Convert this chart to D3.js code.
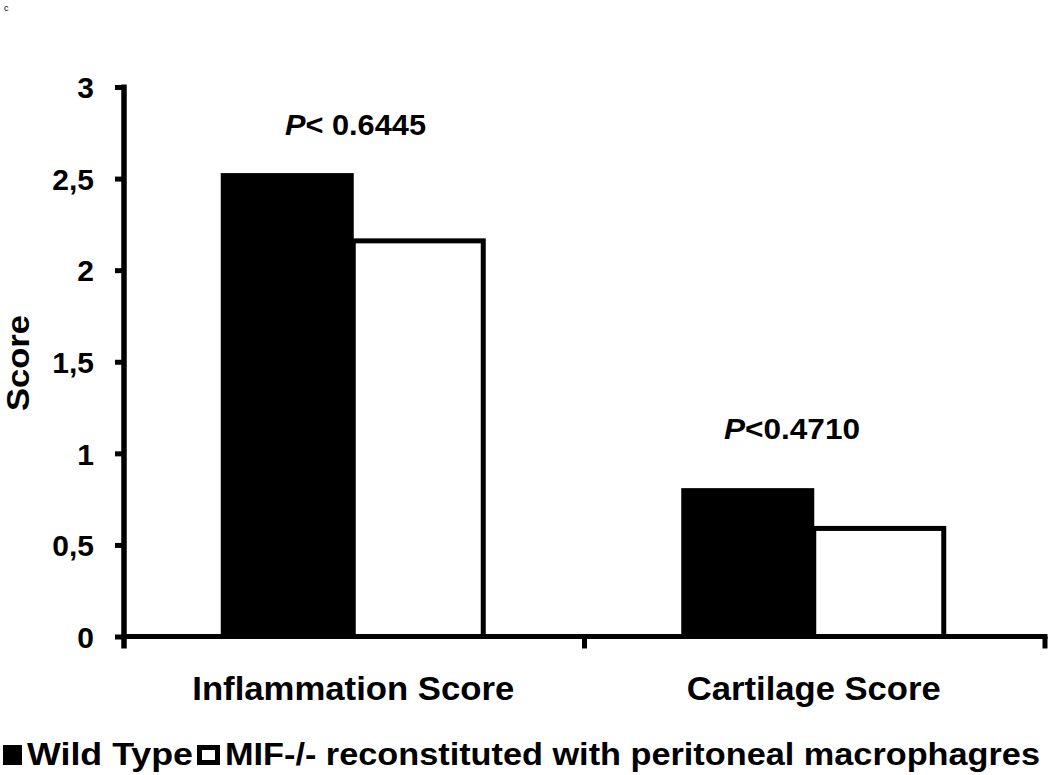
<!DOCTYPE html>
<html><head><meta charset="utf-8">
<script src="https://cdn.jsdelivr.net/npm/d3@7"></script>
<style>body{margin:0;background:#fff}svg{display:block}text{font-family:"Liberation Sans",Arial,sans-serif;font-weight:bold;fill:#000}</style>
</head><body>
<svg id="c" width="1050" height="775"></svg>
<script>
const categories = ["Inflammation Score", "Cartilage Score"];
const seriesNames = ["Wild Type", "MIF-/- reconstituted with peritoneal macrophagres"];
const wildType = [2.53, 0.81];
const mifReconstituted = [2.16, 0.59];
const pLabels = [["P", "< 0.6445"], ["P", "<0.4710"]];
const yTicks = [0, 0.5, 1, 1.5, 2, 2.5, 3];
const yTickLabels = ["0", "0,5", "1", "1,5", "2", "2,5", "3"];

(function () {
const svg = d3.select("#c");
const pl = 124, pr = 1045, pt = 87, pb = 636.5;
const y = d3.scaleLinear().domain([0, 3]).range([pb, pt]);
const x = d3.scaleBand().domain(categories).range([pl, pr]).paddingInner(0).paddingOuter(0);
const inner = d3.scaleBand().domain([0, 1]).range([0, 264]);
const groupOffset = (x.bandwidth() - 264) / 2 - 1;

svg.append("text").attr("x", 4).attr("y", 11).style("font-size", "9px").style("font-weight", "normal").text("c");

// bars
const data = [wildType, mifReconstituted];
data.forEach((vals, si) => {
  svg.selectAll(null).data(categories).enter().append("rect")
    .attr("x", c => x(c) + groupOffset + inner(si) - (si === 0 ? 0.5 : 0))
    .attr("y", (c, i) => y(vals[i]))
    .attr("width", inner.bandwidth() + (si === 0 ? 1 : -2))
    .attr("height", (c, i) => y(0) - y(vals[i]))
    .attr("fill", si === 0 ? "#000" : "#fff")
    .attr("stroke", "#000").attr("stroke-width", si === 0 ? 0 : 5);
});

// y axis
const yAxis = d3.axisLeft(y).tickValues(yTicks).tickFormat((d, i) => yTickLabels[i]).tickSizeOuter(0).tickSize(9).tickPadding(21);
const gy = svg.append("g").attr("transform", `translate(${pl},0)`).call(yAxis);
gy.select(".domain").attr("stroke-width", 5.5).attr("d", `M0,${pt - 2.5}V${pb + 12}`);
gy.selectAll(".tick line").attr("stroke-width", 5);
gy.selectAll(".tick text").style("font-size", "30px").style("font-family", "Liberation Sans, Arial, sans-serif").style("font-weight", "bold").attr("fill", "#000").attr("dy", "0.36em");

// x axis
const xAxis = d3.axisBottom(x).tickValues([]).tickSizeOuter(0);
const gx = svg.append("g").attr("transform", `translate(0,${pb})`).call(xAxis);
gx.select(".domain").attr("stroke-width", 5).attr("d", `M${pl - 3},0H${pr + 2.5}`);
const boundaries = [x(categories[1]), pr];
gx.selectAll("line.b").data(boundaries).enter().append("line").attr("class", "b")
  .attr("x1", d => d).attr("x2", d => d).attr("y1", 0).attr("y2", 12).attr("stroke", "#000").attr("stroke-width", 5);
gx.selectAll("text.cat").data(categories).enter().append("text").attr("class", "cat")
  .attr("x", d => x(d) + x.bandwidth() / 2 - 1).attr("y", 63).attr("text-anchor", "middle").attr("fill", "#000")
  .style("font-size", "33px").attr("textLength", (d, i) => i === 0 ? 322 : 254).attr("lengthAdjust", "spacingAndGlyphs").text(d => d);

// y label
svg.append("text").attr("transform", "translate(29,363) rotate(-90)").attr("text-anchor", "middle")
  .style("font-size", "31px").attr("textLength", 96).attr("lengthAdjust", "spacingAndGlyphs").text("Score");

// P labels
const pPos = [[285, 135], [724, 439]];
const pLen = [141, 136];
pLabels.forEach((p, i) => {
  const t = svg.append("text").attr("x", pPos[i][0]).attr("y", pPos[i][1]).style("font-size", "29px")
    .attr("textLength", pLen[i]).attr("lengthAdjust", "spacingAndGlyphs");
  t.append("tspan").style("font-style", "italic").text(p[0]);
  t.append("tspan").text(p[1]);
});

// legend
const lg = svg.append("g");
lg.append("rect").attr("x", 3).attr("y", 745).attr("width", 19).attr("height", 20).attr("fill", "#000");
lg.append("text").attr("x", 27).attr("y", 765).style("font-size", "31px").attr("textLength", 166).attr("lengthAdjust", "spacingAndGlyphs").text(seriesNames[0]);
lg.append("rect").attr("x", 199.5).attr("y", 747.5).attr("width", 18).attr("height", 15).attr("fill", "#fff").attr("stroke", "#000").attr("stroke-width", 5);
lg.append("text").attr("x", 225).attr("y", 765).style("font-size", "31px").attr("textLength", 815).attr("lengthAdjust", "spacingAndGlyphs").text(seriesNames[1]);
})();
</script>
</body></html>
